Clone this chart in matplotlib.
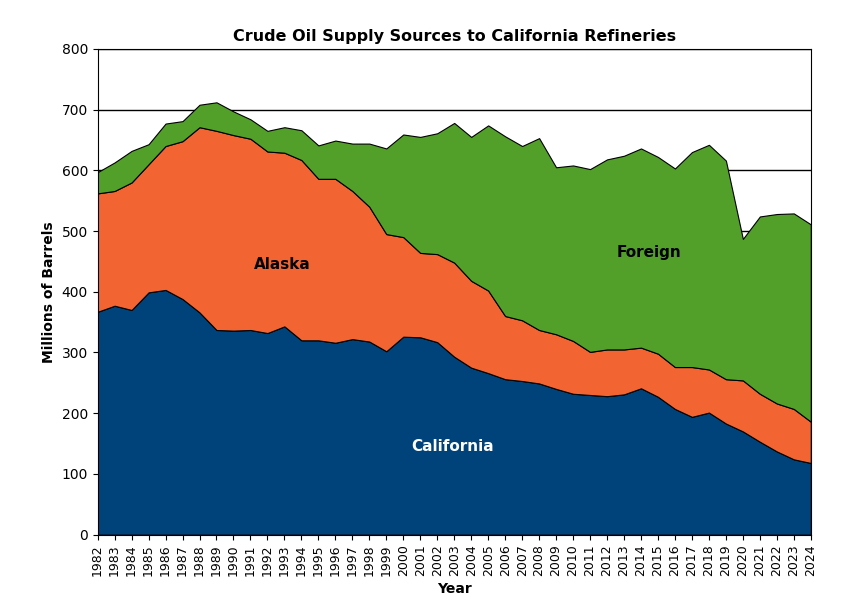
import matplotlib.pyplot as plt
import numpy as np

years = list(range(1982, 2025))
california = [367, 377, 370, 399, 403, 388, 366, 337, 336, 337, 332, 343, 320, 320, 316, 322, 318, 302,
              326, 325, 317, 293, 275, 266, 256, 253, 249, 240, 232, 230, 228, 231, 241, 227, 207, 194,
              201, 183, 170, 153, 137, 124, 118]
alaska = [195, 189, 210, 211, 237, 260, 305, 328, 322, 315, 299, 286, 297, 266, 270, 244, 222, 193,
          164, 139, 145, 155, 143, 136, 104, 100, 88, 90, 87, 71, 77, 74, 67, 71, 69, 82, 71, 73, 84,
          79, 79, 83, 68]
foreign = [35, 47, 52, 33, 37, 33, 37, 47, 39, 32, 34, 42, 49, 55, 63, 78, 104, 141, 169, 191, 199,
           230, 237, 272, 296, 287, 316, 275, 289, 301, 313, 319, 328, 324, 327, 354, 370, 360, 233,
           292, 312, 322, 325]

fig, ax = plt.subplots(figsize=(8.49, 6.11), dpi=100)
fig.subplots_adjust(left=0.115, right=0.955, top=0.92, bottom=0.125)
ax.set_axisbelow(True)
ax.yaxis.grid(True, color='black', linewidth=1)
ax.stackplot(years, california, alaska, foreign,
             colors=['#00437a', '#f26532', '#52a02a'],
             edgecolor='black', linewidth=0.8, zorder=2)

ax.set_xlim(1982, 2024)
ax.set_ylim(0, 800)
ax.set_xticks(years)
ax.set_xticklabels([str(y) for y in years], rotation=90, fontsize=9)
ax.set_yticks(range(0, 801, 100))
ax.tick_params(axis='y', labelsize=10)
ax.set_xlabel('Year', fontweight='bold', fontsize=10)
ax.set_ylabel('Millions of Barrels', fontweight='bold', fontsize=10)
ax.set_title('Crude Oil Supply Sources to California Refineries', fontweight='bold', fontsize=11.5)

ax.text(1992.9, 445, 'Alaska', fontweight='bold', fontsize=11, ha='center', va='center', zorder=3)
ax.text(2014.5, 465, 'Foreign', fontweight='bold', fontsize=11, ha='center', va='center', zorder=3)
ax.text(2002.9, 145, 'California', fontweight='bold', fontsize=11, ha='center', va='center',
        color='white', zorder=3)

fig.savefig('out.png')
